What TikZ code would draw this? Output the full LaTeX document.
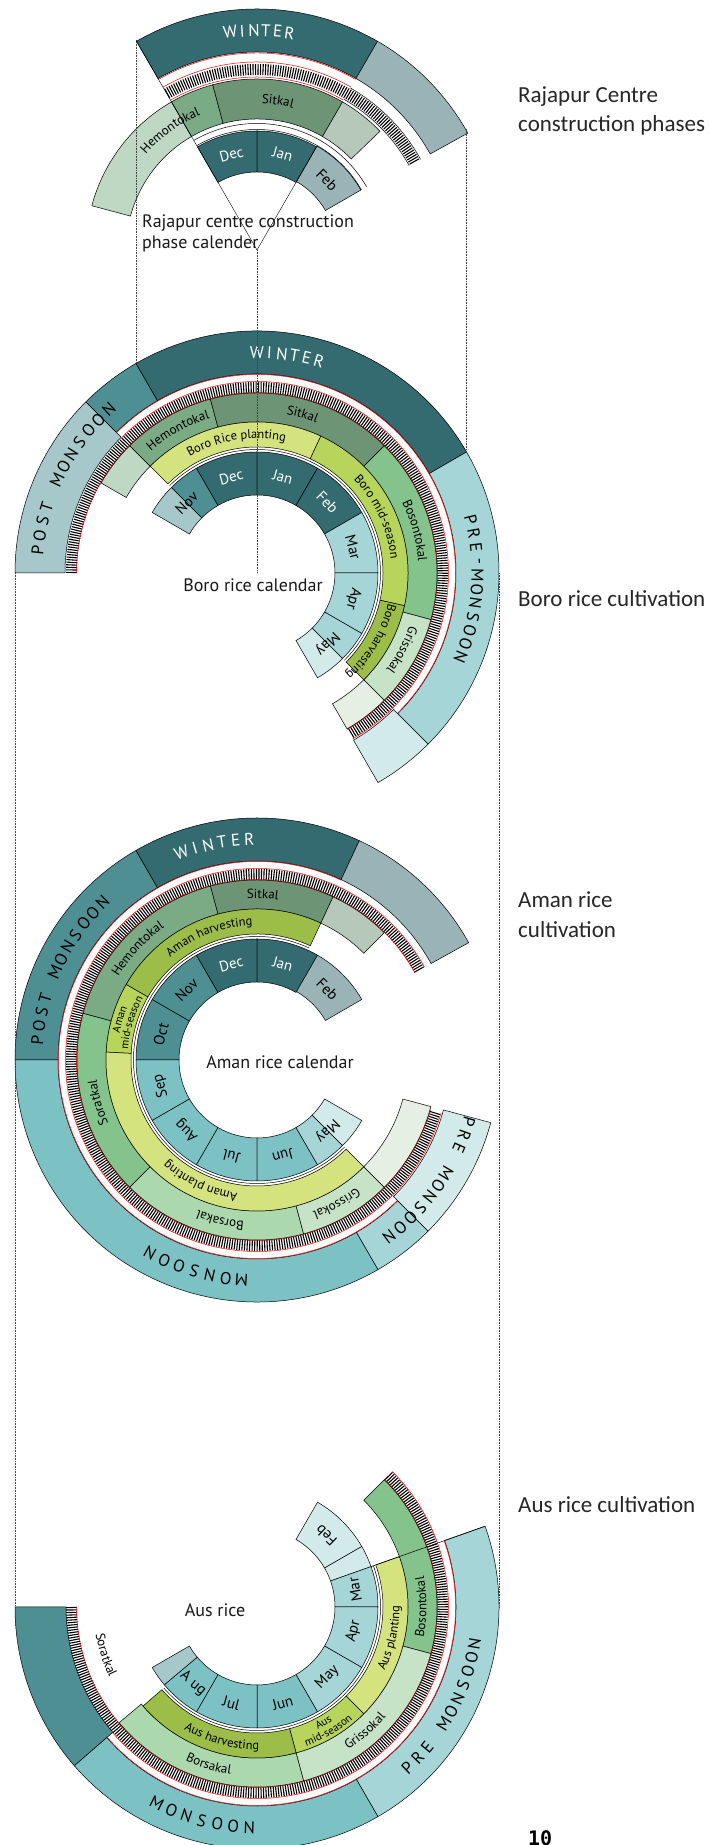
\documentclass[tikz,border=0pt]{standalone}
\usepackage{fontspec}
\newfontfamily\diagfont{PT Sans}
\newfontfamily\sidefont{Carlito}
\newfontfamily\pagefont{DejaVu Sans Mono}
\usetikzlibrary{decorations.text}

\definecolor{winter}{HTML}{336B70}
\definecolor{postmon}{HTML}{4E8F93}
\definecolor{postmonlt}{HTML}{A6C8CA}
\definecolor{monsoon}{HTML}{7CC2C5}
\definecolor{premon}{HTML}{A5D5D6}
\definecolor{premonlt}{HTML}{D3EAEA}
\definecolor{greyblue}{HTML}{9AB3B6}
\definecolor{sitkal}{HTML}{6E9476}
\definecolor{sitkallt}{HTML}{B5C8B9}
\definecolor{hemonto}{HTML}{7AAB85}
\definecolor{hemontolt}{HTML}{BFD8C3}
\definecolor{boshonto}{HTML}{84C38C}
\definecolor{grisso}{HTML}{C7E3C7}
\definecolor{grissolt}{HTML}{E5EFE3}
\definecolor{borsa}{HTML}{ACD8AE}
\definecolor{planting}{HTML}{D5E37E}
\definecolor{midseason}{HTML}{B7D55B}
\definecolor{harvest}{HTML}{9CBE49}

\newcommand\monfont{\diagfont\fontsize{15}{17}\selectfont}
\newcommand\kalfont{\diagfont\fontsize{13}{15}\selectfont}
\newcommand\phasefont{\diagfont\fontsize{12.5}{14}\selectfont}
\newcommand\smallphase{\diagfont\fontsize{11}{12}\selectfont}

\tikzset{
	ring/.style={draw=black, line width=0.5pt}, % outline of every ring piece
	hatchband/.style={line width=11pt, dash pattern=on 1.1pt off 1.4pt, black}, % the ticked band
	redline/.style={draw=red, line width=0.5pt},
	thinline/.style={draw=black, line width=0.5pt},
	spoke/.style={draw=black, line width=0.4pt},
	guide/.style={densely dotted, line width=0.6pt, black!75}, % links between calendars
	monthtext/.style={font=\monfont, inner sep=0pt},
	seasontext/.style={font=\diagfont\fontsize{17}{20}\selectfont, inner sep=0pt},
	titletext/.style={font=\diagfont\fontsize{18}{21}\selectfont, text=black!90},
	captext/.style={font=\diagfont\fontsize{18}{21}\selectfont, anchor=base west, inner sep=0pt, text=black!90},
	sidetext/.style={font=\sidefont\fontsize{23}{29}\selectfont, anchor=base west, inner sep=0pt, text=black!85},
	pagetext/.style={font=\pagefont\bfseries\fontsize{20}{22}\selectfont, anchor=base west, inner sep=0pt},
}

% annular piece: inner r, outer r, from angle, to angle, colour
\newcommand\sect[5]{\filldraw[ring, fill=#5] (#3:#1pt) arc[start angle=#3, end angle=#4, radius=#1pt] -- (#4:#2pt) arc[start angle=#4, end angle=#3, radius=#2pt] -- cycle;}
% ticked band: mid radius, from, to
\newcommand\hatch[3]{\draw[hatchband] (#2:#1pt) arc[start angle=#2, end angle=#3, radius=#1pt];}
% plain arc: radius, from, to, style
\newcommand\arcline[4]{\draw[#4] (#2:#1pt) arc[start angle=#2, end angle=#3, radius=#1pt];}
% text on an arc, clockwise (tops out) or counter clockwise (tops in)
\newcommand\cwlabel[4]{\path[decorate, decoration={text along path, text align=center, text={|#3|#4}}] (#2+28:#1pt) arc[start angle=#2+28, end angle=#2-28, radius=#1pt];}
\newcommand\ccwlabel[4]{\path[decorate, decoration={text along path, text align=center, text={|#3|#4}}] (#2-28:#1pt) arc[start angle=#2-28, end angle=#2+28, radius=#1pt];}
% spaced capitals: radius, start, step, rotation offset, colour, name, letters
\newcommand\capsring[7]{%
	\foreach \ch [count=\k from 0] in {#7} {
		\pgfmathsetmacro\ang{#2+(#3)*\k}
		\node[seasontext, text=#5, rotate=\ang+#4] (#6\k) at (\ang:#1pt) {\ch};
	}}

\begin{document}
\begin{tikzpicture}[x=1pt, y=1pt]
\useasboundingbox (0,0) rectangle (709,1845);
\fill[white] (0,0) rectangle (709,1845);
\coordinate (top) at (257,1595);
\coordinate (boro) at (257,1272);
\coordinate (aman) at (257,785);
\coordinate (aus) at (257,238);

% construction phase calendar
\begin{scope}[shift={(top)}]
	\sect{198}{241}{120}{60}{winter}
	\sect{198}{241}{60}{29}{greyblue}
	\hatch{180.5}{120}{29}
	\arcline{174}{60}{29}{thinline}
	\arcline{187}{60}{29}{thinline}
	\arcline{173}{120}{60}{redline}
	\arcline{188}{120}{60}{redline}
	\arcline{197}{120}{60}{redline}
	\sect{131}{171}{120}{165}{hemontolt}
	\sect{131}{171}{105}{120}{hemonto}
	\sect{131}{171}{60}{105}{sitkal}
	\sect{131}{171}{44}{60}{sitkallt}
	\arcline{120.5}{120}{30}{thinline}
	\arcline{126.5}{120}{30}{thinline}
	\sect{78}{119}{120}{90}{winter}
	\sect{78}{119}{90}{60}{winter}
	\sect{79}{120}{60}{30}{greyblue}
	\foreach \a/\m/\c in {105/Dec/white, 75/Jan/white, 45/Feb/black}
		\node[monthtext, text=\c, rotate=\a-90] (top\m) at (\a:99pt) {\m};
	\cwlabel{146.5}{82}{\kalfont}{Sitkal}
	\cwlabel{146.5}{126}{\kalfont}{Hemontokal}
	\capsring{219.5}{97}{-3.1}{-90}{white}{topWin}{W,I,N,T,E,R}
\end{scope}
\path (top) ++(120:241pt) coordinate (topSpokeW);
\path (top) ++(60:119pt) coordinate (topSpokeE);
\draw[spoke] (top) -- (topSpokeW);
\draw[spoke] (top) -- (topSpokeE);
\node[captext] (capRaj1) at (142,1617) {Rajapur centre construction};
\node[captext] (capRaj2) at (142,1596) {phase calender};

% Boro rice
\begin{scope}[shift={(boro)}]
	\sect{192}{242}{180}{135}{postmonlt}
	\sect{199}{242}{135}{120}{postmon}
	\sect{199}{242}{120}{30}{winter}
	\sect{199}{242}{30}{-45}{premon}
	\sect{193}{242}{-45}{-60}{premonlt}
	\hatch{185.5}{180}{-60}
	\arcline{180.5}{180}{-60}{redline}
	\arcline{191.5}{135}{-60}{redline}
	\arcline{198.5}{135}{-45}{redline}
	\sect{151}{180}{150}{135}{hemontolt}
	\sect{151}{180}{135}{105}{hemonto}
	\sect{151}{180}{105}{45}{sitkal}
	\sect{151}{180}{45}{-15}{boshonto}
	\sect{151}{180}{-15}{-45}{grisso}
	\sect{151}{180}{-45}{-60}{grissolt}
	\sect{126}{151}{135}{65}{planting}
	\sect{126}{151}{65}{-12.5}{midseason}
	\sect{126}{151}{-12.5}{-45}{harvest}
	\arcline{123.5}{135}{-45}{thinline}
	\sect{78}{121}{150}{135}{postmonlt}
	\sect{78}{121}{135}{120}{postmon}
	\sect{78}{121}{120}{90}{winter}
	\sect{78}{121}{90}{60}{winter}
	\sect{78}{121}{60}{30}{winter}
	\sect{78}{121}{30}{0}{premon}
	\sect{78}{121}{0}{-30}{premon}
	\sect{78}{121}{-30}{-45}{premon}
	\sect{78}{121}{-45}{-60}{premonlt}
	\foreach \a/\m/\c in {135/Nov/black, 105/Dec/white, 75/Jan/white, 45/Feb/white, 15/Mar/black, -15/Apr/black, -45/May/black}
		\node[monthtext, text=\c, rotate=\a-90] (boro\m) at (\a:99.5pt) {\m};
	\cwlabel{134.5}{99}{\phasefont}{Boro Rice planting}
	\cwlabel{134.5}{25}{\phasefont}{Boro mid-season}
	\cwlabel{134.5}{-31}{\phasefont}{Boro harvesting}
	\cwlabel{161.5}{119}{\kalfont}{Hemontokal}
	\cwlabel{161.5}{74}{\kalfont}{Sitkal}
	\cwlabel{161.5}{15}{\kalfont}{Bosontokal}
	\cwlabel{161.5}{-28}{\kalfont}{Grissokal}
	\capsring{220.5}{90}{-3.26}{-90}{white}{boroWin}{W,I,N,T,E,R}
	\capsring{220.5}{174}{-3.8}{-90}{black}{boroPost}{P,O,S,T,{},M,O,N,S,O,O,N}
	\capsring{220.5}{14}{-3.65}{-90}{black}{boroPre}{P,R,E,-,M,O,N,S,O,O,N}
\end{scope}
\node[titletext] (boroTitle) at (253,1260) {Boro rice calendar};

% Aman rice
\begin{scope}[shift={(aman)}]
	\sect{199}{242}{180}{120}{postmon}
	\sect{199}{242}{120}{65}{winter}
	\sect{199}{242}{65}{29}{greyblue}
	\sect{199}{242}{180}{300}{monsoon}
	\sect{199}{242}{300}{315}{premon}
	\sect{193}{242}{315}{345}{premonlt}
	\hatch{185.5}{29}{344}
	\arcline{180.5}{29}{344}{redline}
	\arcline{191.5}{29}{344}{redline}
	\arcline{198.5}{65}{315}{redline}
	\sect{151}{180}{105}{65}{sitkal}
	\sect{151}{180}{65}{45}{sitkallt}
	\sect{151}{180}{105}{165}{hemonto}
	\sect{151}{180}{165}{225}{boshonto}
	\sect{151}{180}{225}{285}{borsa}
	\sect{151}{180}{285}{315}{grisso}
	\sect{151}{180}{315}{345}{grissolt}
	\sect{126}{151}{65}{150}{harvest}
	\sect{126}{151}{150}{177}{midseason}
	\sect{126}{151}{177}{315}{planting}
	\arcline{123.5}{65}{315}{thinline}
	\sect{78}{121}{180}{150}{postmon}
	\sect{78}{121}{150}{120}{postmon}
	\sect{78}{121}{120}{90}{winter}
	\sect{78}{121}{90}{60}{winter}
	\sect{79}{121}{60}{30}{greyblue}
	\sect{78}{121}{180}{210}{monsoon}
	\sect{78}{121}{210}{240}{monsoon}
	\sect{78}{121}{240}{270}{monsoon}
	\sect{78}{121}{270}{300}{monsoon}
	\sect{78}{121}{300}{315}{premon}
	\sect{78}{121}{315}{330}{premonlt}
	\foreach \a/\m/\c in {165/Oct/black, 135/Nov/black, 105/Dec/white, 75/Jan/white, 45/Feb/black, 195/Sep/black, 225/Aug/black, 255/Jul/black, 285/Jun/black, 315/May/black}
		\node[monthtext, text=\c, rotate=\a-90] (aman\m) at (\a:99.5pt) {\m};
	\cwlabel{134.5}{111}{\phasefont}{Aman harvesting}
	\cwlabel{140}{163.5}{\smallphase}{Aman}
	\cwlabel{129.5}{163.5}{\smallphase}{mid-season}
	\cwlabel{134.5}{245}{\phasefont}{Aman planting}
	\cwlabel{161.5}{88}{\kalfont}{Sitkal}
	\cwlabel{161.5}{137}{\kalfont}{Hemontokal}
	\cwlabel{161.5}{195}{\kalfont}{Soratkal}
	\cwlabel{161.5}{257}{\kalfont}{Borsakal}
	\cwlabel{161.5}{299}{\kalfont}{Grissokal}
	\capsring{220.5}{110}{-3.6}{-90}{white}{amanWin}{W,I,N,T,E,R}
	\capsring{220.5}{174.8}{-3.67}{-90}{black}{amanPost}{P,O,S,T,{},M,O,N,S,O,O,N}
	\capsring{220.5}{-94}{-4.17}{-90}{black}{amanMon}{M,O,N,S,O,O,N}
	\capsring{220.5}{-16.2}{-3.7}{-90}{black}{amanPre}{P,R,E,{},M,O,N,S,O,O,N}
\end{scope}
\node[titletext] (amanTitle) at (280,783) {Aman rice calendar};

% Aus rice
\begin{scope}[shift={(aus)}]
	\sect{191}{242}{180}{221}{postmon}
	\sect{199}{242}{221}{300}{monsoon}
	\sect{199}{242}{300}{379.5}{premon}
	\hatch{185.5}{45}{-180}
	\arcline{180.5}{45}{-180}{redline}
	\arcline{191.5}{45}{-139}{redline}
	\arcline{198.5}{19.5}{-139}{redline}
	\sect{151}{180}{45}{-15}{boshonto}
	\sect{151}{180}{-15}{-75}{grisso}
	\sect{151}{180}{-75}{-140}{borsa}
	\sect{126}{151}{19.5}{-45}{planting}
	\sect{126}{151}{-45}{-75}{midseason}
	\sect{126}{151}{-75}{-139}{harvest}
	\arcline{123.5}{19.5}{-139}{thinline}
	\sect{78}{121}{60}{30}{premonlt}
	\sect{78}{121}{30}{19.5}{premonlt}
	\sect{78}{121}{19.5}{0}{premon}
	\sect{78}{121}{0}{-30}{premon}
	\sect{78}{121}{-30}{-60}{premon}
	\sect{78}{121}{-60}{-90}{monsoon}
	\sect{78}{121}{-90}{-120}{monsoon}
	\sect{78}{121}{-120}{-140}{monsoon}
	\sect{78}{121}{-140}{-150}{postmonlt}
	\draw[thinline] (19.5:121pt) -- (19.5:242pt);
	\foreach \a/\m/\n in {46/Feb/Feb, 10/Mar/Mar, -14/Apr/Apr, -45/May/May, -75/Jun/Jun, -105/Jul/Jul, -130/A ug/Aug}
		\node[monthtext, rotate=\a+90] (aus\n) at (\a:99.5pt) {\m};
	\ccwlabel{142.5}{-13}{\phasefont}{Aus planting}
	\ccwlabel{136.5}{-60}{\smallphase}{Aus}
	\ccwlabel{147.5}{-60}{\smallphase}{mid-season}
	\ccwlabel{142.5}{-105}{\phasefont}{Aus harvesting}
	\ccwlabel{169.5}{0}{\kalfont}{Bosontokal}
	\ccwlabel{169.5}{-49}{\kalfont}{Grissokal}
	\ccwlabel{169.5}{-107}{\kalfont}{Borsakal}
	\ccwlabel{163.5}{-162.5}{\kalfont}{Soratkal}
	\capsring{220.5}{-117}{4.17}{90}{black}{ausMon}{M,O,N,S,O,O,N}
	\capsring{220.5}{-47}{3.75}{90}{black}{ausPre}{P,R,E,{},M,O,N,S,O,O,N}
\end{scope}
\node[titletext] (ausTitle) at (215,235) {Aus rice};

% links between the calendars
\path (top) ++(120:242pt) coordinate (topW);
\path (top) ++(30:242pt) coordinate (topE);
\path (boro) ++(120:242pt) coordinate (boroW);
\path (boro) ++(30:242pt) coordinate (boroE);
\path (boro) ++(180:242pt) coordinate (boroL);
\path (boro) ++(0:242pt) coordinate (boroR);
\path (aus) ++(180:242pt) coordinate (ausL);
\path (aus) ++(0:242pt) coordinate (ausR);
\draw[guide] (topW) -- (boroW);
\draw[guide] (top) -- (boro);
\draw[guide] (topE) -- (boroE);
\draw[guide] (boroL) -- (ausL);
\draw[guide] (boroR) -- (ausR);

% side notes
\node[sidetext] (sideRaj1) at (518,1742) {Rajapur Centre};
\node[sidetext] (sideRaj2) at (518,1713) {construction phases};
\node[sidetext] (sideBoro) at (518,1238) {Boro rice cultivation};
\node[sidetext] (sideAman1) at (518,937) {Aman rice};
\node[sidetext] (sideAman2) at (518,907) {cultivation};
\node[sidetext] (sideAus) at (518,332) {Aus rice cultivation};
\node[pagetext] (pageNo) at (528,-1) {10};
\end{tikzpicture}
\end{document}
